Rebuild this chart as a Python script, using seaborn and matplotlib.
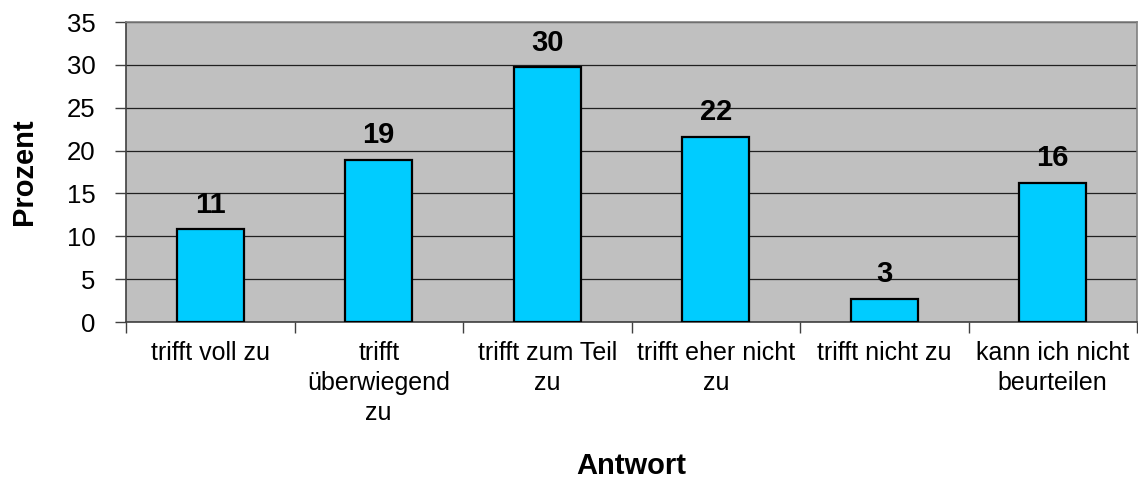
import matplotlib
matplotlib.use("Agg")
import matplotlib.pyplot as plt
import seaborn as sns
import numpy as np
from matplotlib.ticker import FixedLocator, NullFormatter, FixedFormatter

categories = ["trifft voll zu", "trifft\nüberwiegend\nzu", "trifft zum Teil\nzu",
              "trifft eher nicht\nzu", "trifft nicht zu", "kann ich nicht\nbeurteilen"]
values = [10.8, 18.9, 29.7, 21.6, 2.7, 16.2]
value_labels = ["11", "19", "30", "22", "3", "16"]
yticks = [0, 5, 10, 15, 20, 25, 30, 35]

sns.set_theme(style="white")
plt.rcParams["font.family"] = ["Liberation Sans", "DejaVu Sans"]
plt.rcParams["text.color"] = "black"
plt.rcParams["axes.labelcolor"] = "black"
plt.rcParams["xtick.color"] = "black"
plt.rcParams["ytick.color"] = "black"

fig = plt.figure(figsize=(11.38, 4.79), dpi=100)
ax = fig.add_axes([126/1138, 1-322/479, 1011/1138, 300/479])
ax.set_facecolor("#C0C0C0")

sns.barplot(x=categories, y=values, color="#00CCFF", saturation=1, width=0.4,
            edgecolor="black", linewidth=1.6, ax=ax, zorder=3)

ax.set_ylim(0, 35)
ax.set_xlim(-0.5, len(categories) - 0.5)
ax.set_yticks(yticks)
ax.set_yticklabels([str(t) for t in yticks])
ax.yaxis.grid(True, color="#202020", linewidth=0.9, zorder=0)
ax.set_axisbelow(True)

# x ticks at category boundaries, labels at centers
ax.xaxis.set_major_locator(FixedLocator(np.arange(-0.5, len(categories), 1.0)))
ax.xaxis.set_major_formatter(NullFormatter())
ax.xaxis.set_minor_locator(FixedLocator(np.arange(len(categories))))
ax.xaxis.set_minor_formatter(FixedFormatter(categories))
ax.tick_params(axis="x", which="major", direction="out", length=8, width=1, color="#404040", bottom=True)
ax.tick_params(axis="x", which="minor", length=0, pad=14, labelsize=18, bottom=True)
ax.tick_params(axis="y", direction="out", length=8, width=1, color="#404040", pad=14, labelsize=18.5, left=True)
for lab in ax.xaxis.get_minorticklabels():
    lab.set_multialignment("center")
    lab.set_linespacing(1.3)

for s in ["left", "bottom"]:
    ax.spines[s].set_color("#404040")
    ax.spines[s].set_linewidth(1.2)
for s in ["top", "right"]:
    ax.spines[s].set_color("#808080")
    ax.spines[s].set_linewidth(1.2)

for i, (v, lab) in enumerate(zip(values, value_labels)):
    ax.annotate(lab, xy=(i, v), xytext=(0, 12), textcoords="offset points",
                ha="center", va="baseline", fontsize=21, fontweight="bold", color="black")

ax.set_xlabel("Antwort", fontsize=21, fontweight="bold")
ax.set_ylabel("Prozent", fontsize=21, fontweight="bold")
ax.xaxis.set_label_coords(0.5, (322 - 452) / 300)
ax.yaxis.set_label_coords((38 - 126) / 1011, 0.5)

fig.savefig("out.png", dpi=100)
